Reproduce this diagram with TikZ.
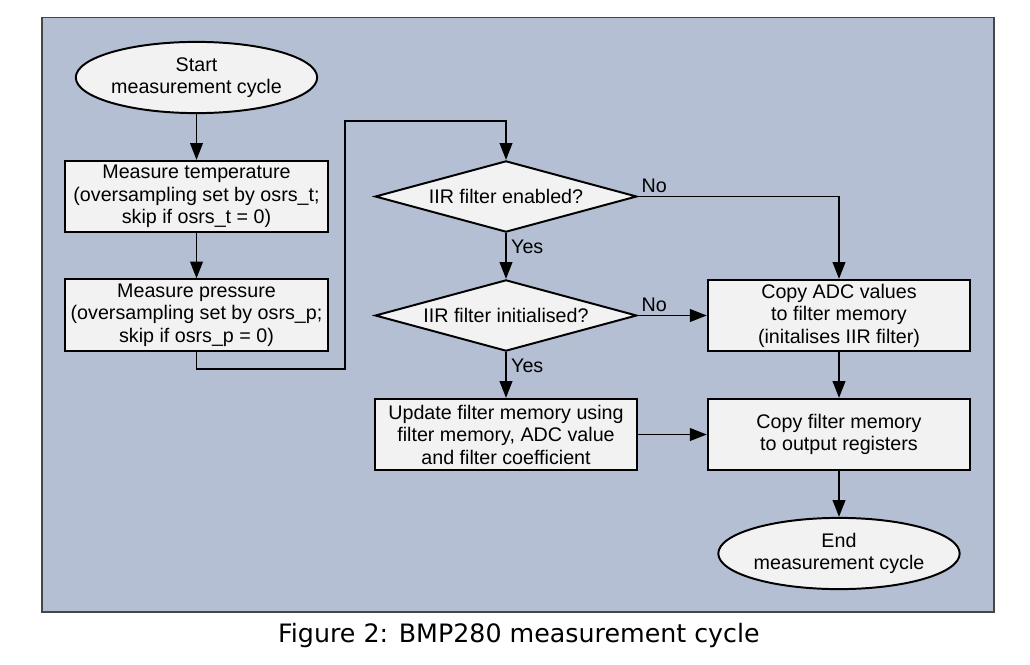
\documentclass[tikz,border=0pt]{standalone}
\usepackage{fontspec}
\setmainfont{Liberation Sans}
\newfontfamily\captionfont{DejaVu Sans}
\usetikzlibrary{shapes.geometric,arrows.meta}
\definecolor{panelblue}{RGB}{180,191,211}
\definecolor{boxgray}{RGB}{242,242,242}
\definecolor{framegray}{RGB}{70,70,70}
\tikzset{
    stepbox/.style={shape=rectangle,draw=black,fill=boxgray,line width=1.4pt,align=center,inner sep=0pt,minimum width=6.56cm,minimum height=1.78cm},
    terminal/.style={shape=ellipse,draw=black,fill=boxgray,line width=1.4pt,align=center,inner sep=0pt,minimum width=5.375cm,minimum height=1.78cm},
    decision/.style={shape=diamond,draw=black,fill=boxgray,line width=1.4pt,aspect=4,inner sep=1pt,minimum width=6.54cm,minimum height=1.78cm},
    flow/.style={line width=1.4pt,-{Triangle[length=12pt,width=9pt]}}
}

\begin{document}
\begin{tikzpicture}[x=0.025cm,y=-0.025cm,font=\fontsize{14}{16}\selectfont]
    \useasboundingbox (0,0) rectangle (1030,664);
    \draw[draw=framegray,fill=panelblue,line width=1.2pt] (42,17.5) rectangle (994,612);

    \node[terminal] (Start) at (196.5,77.5) {Start\\measurement cycle};
    \node[stepbox] (MeasureTemp) at (196.5,196.5) {Measure temperature\\(oversampling set by osrs\_t;\\skip if osrs\_t = 0)};
    \node[stepbox] (MeasurePress) at (196.5,315) {Measure pressure\\(oversampling set by osrs\_p;\\skip if osrs\_p = 0)};
    \node[decision] (FilterEnabled) at (506,196.5) {IIR filter enabled?};
    \node[decision] (FilterInit) at (506,315.5) {IIR filter initialised?};
    \node[stepbox] (UpdateMemory) at (506,434.5) {Update filter memory using\\filter memory, ADC value\\and filter coefficient};
    \node[stepbox] (CopyADC) at (839,315.5) {Copy ADC values\\to filter memory\\(initalises IIR filter)};
    \node[stepbox] (CopyFilter) at (839,434.5) {Copy filter memory\\to output registers};
    \node[terminal] (End) at (839,553.5) {End\\measurement cycle};
    \node[font=\captionfont\fontsize{18}{21}\selectfont,anchor=base] (Caption) at (519,642) {Figure 2: BMP280 measurement cycle};

    \coordinate (LoopLow) at (345,369);
    \coordinate (LoopHigh) at (345,121);

    \path [flow] (Start) edge (MeasureTemp);
    \path [flow] (MeasureTemp) edge (MeasurePress);
    \draw [flow] (MeasurePress.south) |- (LoopLow) -- (LoopHigh) -| (FilterEnabled.north);
    \draw [flow] (FilterEnabled.east) -| node[pos=0,above right,inner sep=2pt] {No} (CopyADC.north);
    \path [flow] (FilterEnabled) edge node[pos=0.31,right,inner sep=3pt] {Yes} (FilterInit);
    \path [flow] (FilterInit.east) edge node[pos=0,above right,inner sep=2pt] {No} (CopyADC.west);
    \path [flow] (FilterInit) edge node[pos=0.31,right,inner sep=3pt] {Yes} (UpdateMemory);
    \path [flow] (UpdateMemory) edge (CopyFilter);
    \path [flow] (CopyADC) edge (CopyFilter);
    \path [flow] (CopyFilter) edge (End);
\end{tikzpicture}
\end{document}
